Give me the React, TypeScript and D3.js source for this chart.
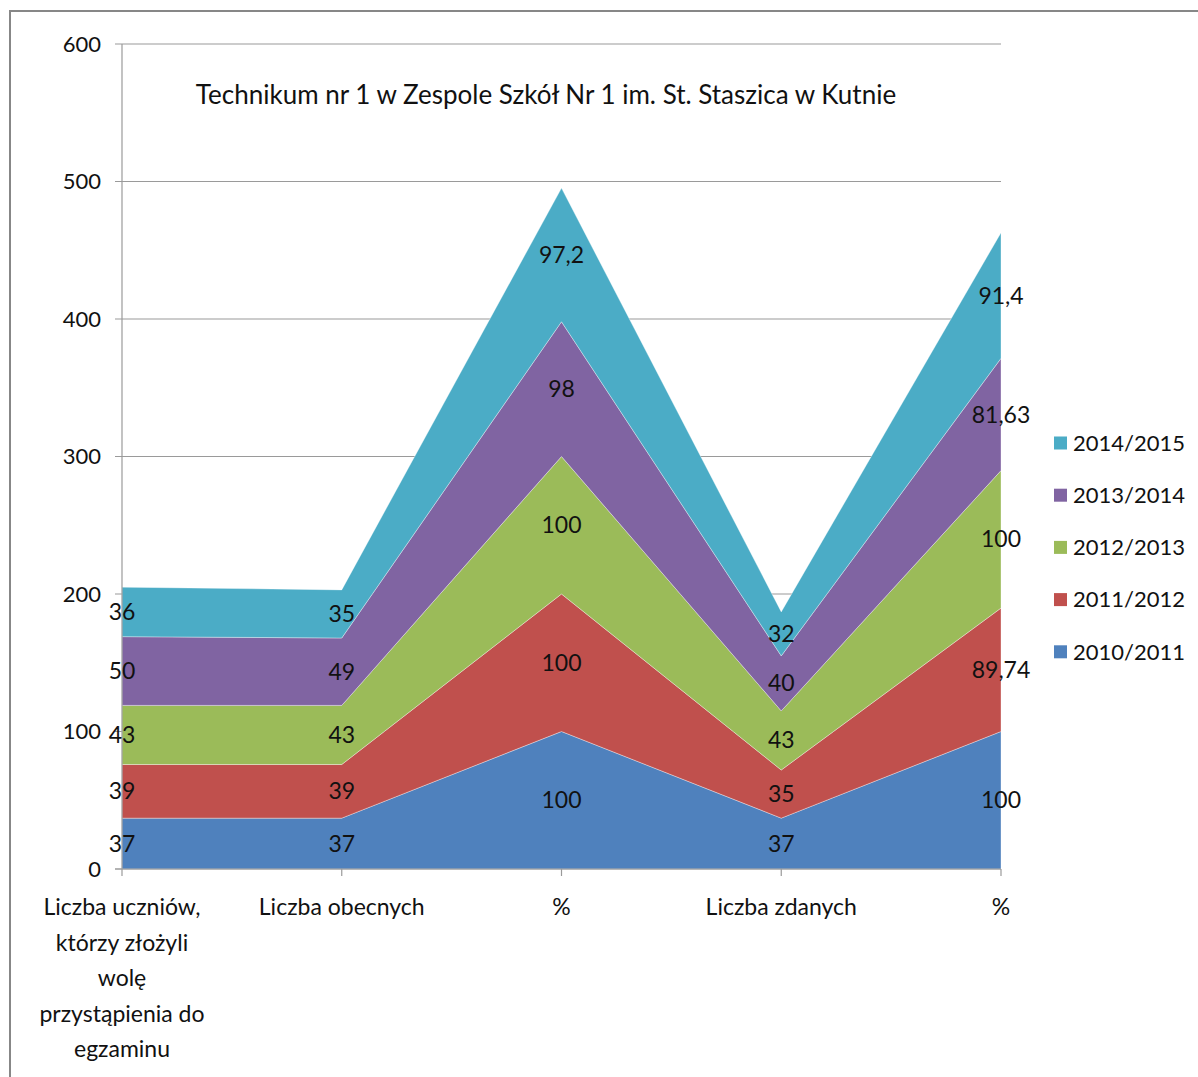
import React from "react";
import * as d3 from "d3";

const categories = [
  "Liczba uczniów, którzy złożyli wolę przystąpienia do egzaminu",
  "Liczba obecnych",
  "%",
  "Liczba zdanych",
  "%",
];
const categoryLines = [
  ["Liczba uczniów,", "którzy złożyli", "wolę", "przystąpienia do", "egzaminu"],
  ["Liczba obecnych"],
  ["%"],
  ["Liczba zdanych"],
  ["%"],
];
const seriesNames = ["2010/2011", "2011/2012", "2012/2013", "2013/2014", "2014/2015"];
const s2010 = [37, 37, 100, 37, 100];
const s2011 = [39, 39, 100, 35, 89.74];
const s2012 = [43, 43, 100, 43, 100];
const s2013 = [50, 49, 98, 40, 81.63];
const s2014 = [36, 35, 97.2, 32, 91.4];
const seriesValues = [s2010, s2011, s2012, s2013, s2014];
const colors = ["#4F81BD", "#C0504D", "#9BBB59", "#8064A2", "#4BACC6"];
const yTicks = [0, 100, 200, 300, 400, 500, 600];
const title = "Technikum nr 1 w Zespole Szkół Nr 1 im. St. Staszica w Kutnie";

const FONT = "Lato, 'Open Sans', sans-serif";

export default function App() {
  const x = d3.scalePoint<number>().domain(d3.range(categories.length)).range([122, 1001]);
  const y = d3.scaleLinear().domain([0, 600]).range([869, 44]);

  const rows = categories.map((_, i) => {
    const r: Record<string, number> = { i };
    seriesNames.forEach((s, k) => (r[s] = seriesValues[k][i]));
    return r;
  });
  const stacked = d3.stack<Record<string, number>>().keys(seriesNames)(rows);
  const area = d3
    .area<d3.SeriesPoint<Record<string, number>>>()
    .x((d) => x(d.data.i) as number)
    .y0((d) => y(d[0]))
    .y1((d) => y(d[1]));

  const fmt = (v: number) => String(v).replace(".", ",");

  return (
    <svg
      width={1198}
      height={1077}
      style={{ position: "absolute", left: 0, top: 0, background: "#fff" }}
      fontFamily={FONT}
    >
      <rect x={10} y={11} width={1300} height={1200} fill="#fff" stroke="#878787" strokeWidth={2} />
      {yTicks.map((t) => (
        <g key={t}>
          <line x1={115} x2={1001} y1={y(t)} y2={y(t)} stroke="#9a9a9a" strokeWidth={1.2} />
          <text x={101} y={y(t)} dy="0.35em" textAnchor="end" fontSize={22} fill="#111">
            {t}
          </text>
        </g>
      ))}
      {stacked.map((layer, k) => (
        <path key={k} d={area(layer) as string} fill={colors[k]} stroke="rgba(255,255,255,0.35)" strokeWidth={1} />
      ))}
      <line x1={122} x2={122} y1={44} y2={869} stroke="#9a9a9a" strokeWidth={1.2} />
      <line x1={115} x2={1001} y1={869} y2={869} stroke="#9a9a9a" strokeWidth={1.2} />
      {categories.map((_, i) => (
        <line key={i} x1={x(i)} x2={x(i)} y1={869} y2={876} stroke="#9a9a9a" strokeWidth={1.2} />
      ))}
      {stacked.map((layer, k) =>
        layer.map((d, i) => (
          <text
            key={`${k}-${i}`}
            x={x(i)}
            y={y((d[0] + d[1]) / 2)}
            dy="0.35em"
            textAnchor="middle"
            fontSize={23}
            fill="#111"
          >
            {fmt(seriesValues[k][i])}
          </text>
        ))
      )}
      {categoryLines.map((lines, i) => (
        <text key={i} x={x(i)} y={907} textAnchor="middle" fontSize={23} fill="#111">
          {lines.map((l, j) => (
            <tspan key={j} x={x(i)} y={907 + j * 35.5} dy="0.35em">
              {l}
            </tspan>
          ))}
        </text>
      ))}
      <text x={546} y={95} dy="0.35em" textAnchor="middle" fontSize={26} fill="#111">
        {title}
      </text>
      {seriesNames
        .map((s, k) => ({ s, k }))
        .reverse()
        .map(({ s, k }, j) => (
          <g key={s}>
            <rect x={1054} y={443 + j * 52.2 - 6.5} width={13} height={13} fill={colors[k]} />
            <text x={1073} y={443 + j * 52.2} dy="0.35em" fontSize={22} fill="#111">
              {s}
            </text>
          </g>
        ))}
    </svg>
  );
}
